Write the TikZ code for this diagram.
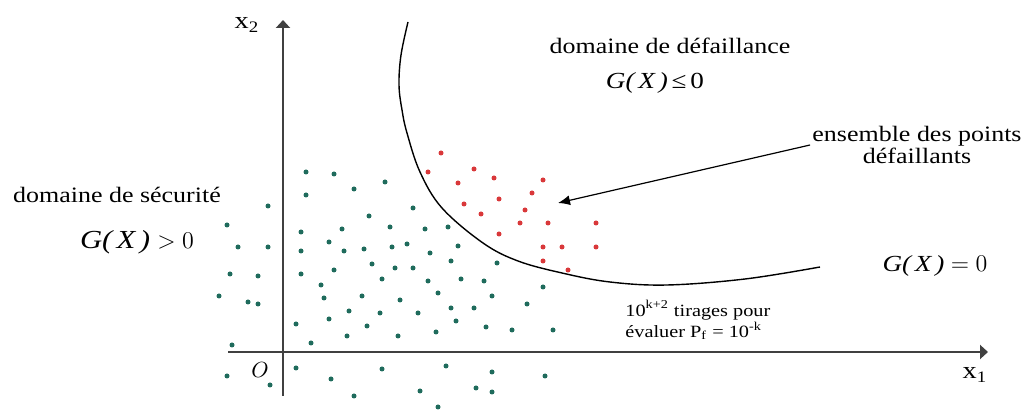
\documentclass[tikz,border=0pt]{standalone}
\usepackage{fontspec}
\setmainfont{Liberation Serif}[FakeStretch=1.18]
\usetikzlibrary{arrows.meta}
\definecolor{safegreen}{HTML}{1F6B5C}
\definecolor{failred}{HTML}{D9383A}
\tikzset{
  lbl/.style={font=\fontsize{11}{11}\selectfont, inner sep=1pt},
  glbl/.style={font=\fontsize{11.5}{12}\selectfont, inner sep=1pt},
  small/.style={font=\fontsize{8.6}{7}\selectfont, inner sep=0pt},
  axis/.style={line width=1pt, black!75, -{Triangle[length=4pt,width=7pt]}},
}
\begin{document}
\begin{tikzpicture}[x=0.5pt, y=-0.5pt]
\useasboundingbox (0,0) rectangle (1033,410);
% axes
\coordinate (xa) at (228,352); \coordinate (xb) at (988,352);
\coordinate (ya) at (283,396); \coordinate (yb) at (283,20);
\draw[axis] (xa) -- (xb);
\draw[axis] (ya) -- (yb);
\node[font=\fontsize{12}{12}\selectfont] (xtwo) at (247,25) {x\textsubscript{2}};
\node[font=\fontsize{12}{12}\selectfont] (xone) at (975,375) {x\textsubscript{1}};
\node[font=\fontsize{11}{11}\selectfont] (orig) at (260,370) {$O$};
% limit state G(X)=0
\draw[line width=0.7pt] plot[smooth, tension=0.6] coordinates {(408,22) (401,55) (399,85) (402,110)
  (407,133) (420,172) (442,208) (483,243) (518,261) (562,273) (610,282) (667,285) (745,279) (820,267)};
% samples
\foreach \p in {(306,172),(334,174),(385,182),(354,189),(306,195),(268,206),(369,216),(227,225),
  (390,227),(342,229),(301,232),(329,242),(407,244),(238,247),(268,247),(392,247),(364,249),
  (301,251),(344,251),(372,264),(395,268),(334,270),(230,274),(301,274),(258,276),(382,279),
  (321,285),(219,296),(362,296),(324,298),(248,302),(258,304),(400,300),(349,311),(380,313),
  (329,319),(296,324),(367,326),(347,336),(398,336),(311,343),(232,345),(296,368),(382,369),
  (227,376),(331,379),(270,385),(354,396),(413,208),(425,229),(448,227),(458,246),(430,253),
  (451,261),(497,263),(413,268),(428,281),(461,279),(484,281),(543,287),(438,293),(492,296),
  (527,304),(418,313),(451,308),(474,308),(456,321),(486,327),(436,332),(512,330),(553,330),
  (446,366),(492,372),(545,376),(420,391),(476,388),(492,392),(438,407)}
  \fill[safegreen] \p circle[radius=1.25pt];
\foreach \p in {(441,153),(428,172),(474,169),(458,183),(494,178),(543,180),(532,193),(499,199),
  (464,204),(525,210),(481,214),(520,223),(548,223),(596,223),(499,234),(543,247),(562,247),
  (596,247),(543,261),(568,270)}
  \fill[failred] \p circle[radius=1.25pt];
% labels
\node[lbl] (defail) at (670,46) {domaine de défaillance};
\node[glbl] (gneg) at (655,83) {\textit{G(\,X\,)}\,≤\,0};
\node[lbl] (secur) at (117,195) {domaine de sécurité};
\node[glbl, font=\fontsize{13}{13}\selectfont] (gpos) at (137,242) {\textit{G(\,X\,)}\;$>0$};
\node[glbl] (gzero) at (935,266) {\textit{G(\,X\,)}\;$=0$};
\node[lbl, align=center] (ens) at (917,145) {ensemble des points\\défaillants};
\node[small, align=left, anchor=west] (tir) at (625,320)
  {10\textsuperscript{k+2} tirages pour\\évaluer P\textsubscript{f} = 10\textsuperscript{-k}};
\coordinate (tip) at (558,203);
\draw[line width=0.6pt, -{Latex[length=6pt,width=5pt]}] (ens.west) -- (tip);
\end{tikzpicture}
\end{document}
